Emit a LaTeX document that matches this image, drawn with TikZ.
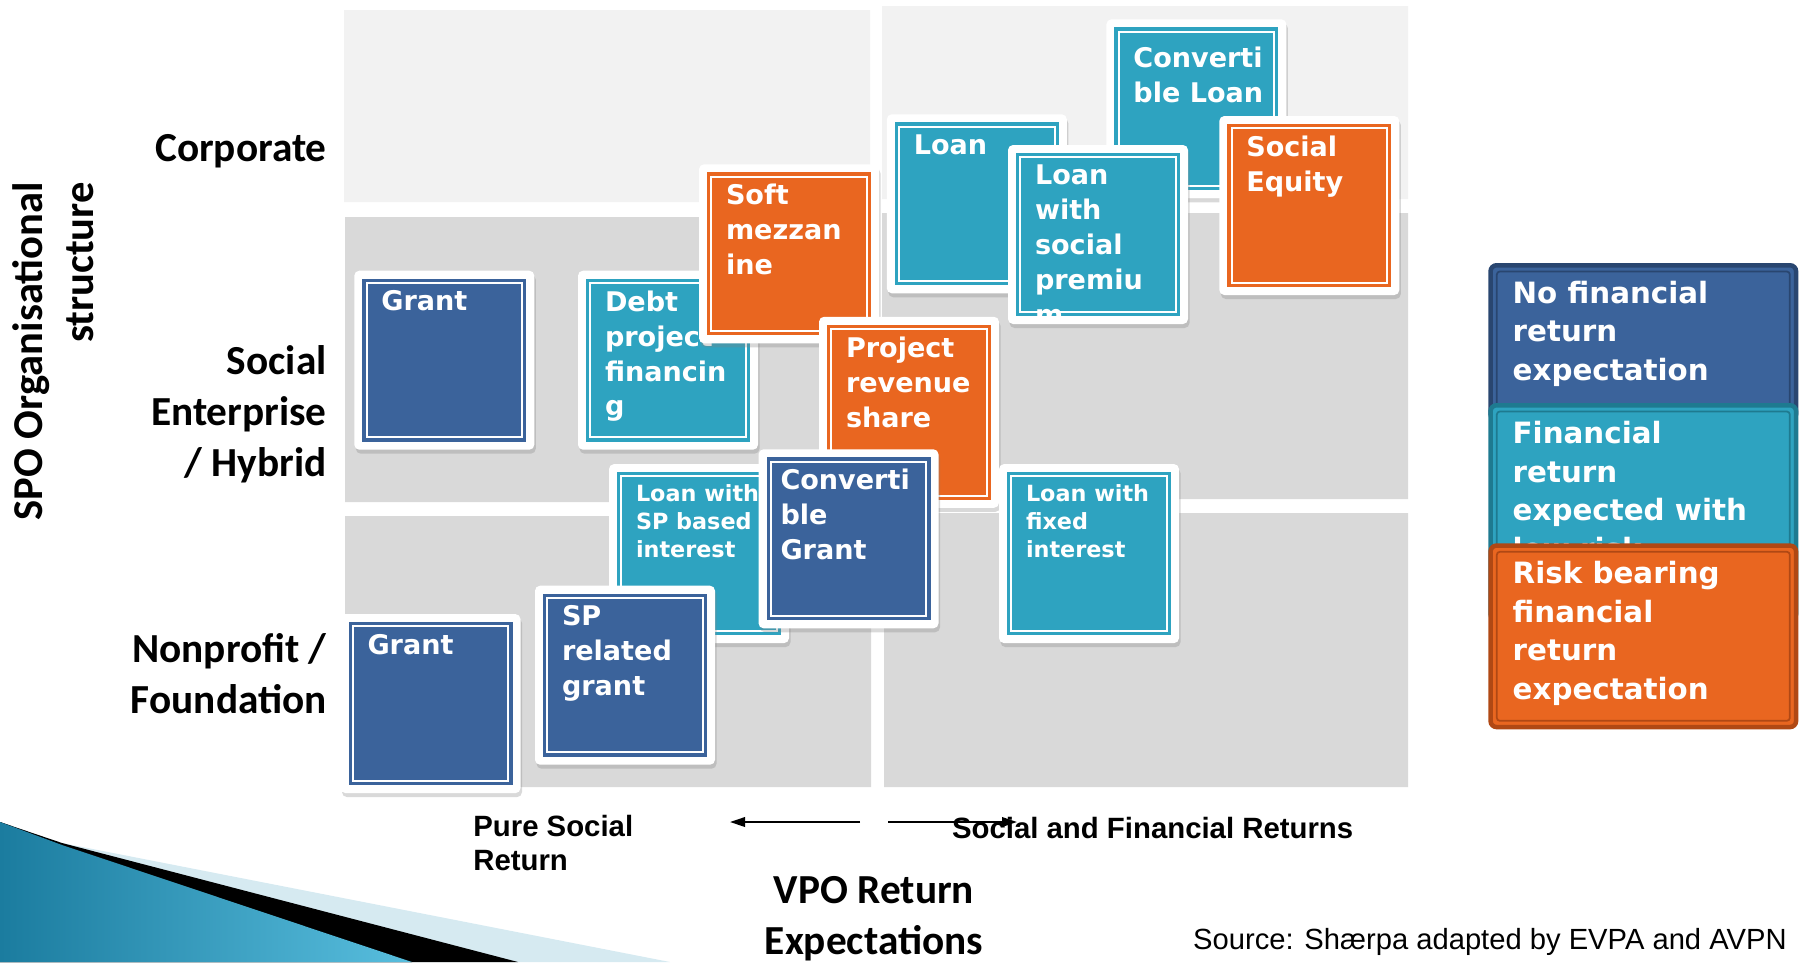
\documentclass[tikz,border=0pt]{standalone}
\usepackage{fontspec}
\setmainfont{DejaVu Sans}
\newfontfamily\tilefont{DejaVu Sans}
\newfontfamily\axisfont{Carlito}
\newfontfamily\notefont{Liberation Sans}
\usepackage{xcolor}
\definecolor{noreturn}{RGB}{59,99,155}
\definecolor{lowrisk}{RGB}{46,163,192}
\definecolor{riskbearing}{RGB}{233,102,32}
\definecolor{noreturndark}{RGB}{41,70,112}
\definecolor{lowriskdark}{RGB}{30,122,144}
\definecolor{riskbearingdark}{RGB}{176,72,20}
\definecolor{rowlight}{RGB}{242,242,242}
\definecolor{rowgrey}{RGB}{217,217,217}
\definecolor{swooshlight}{RGB}{214,234,241}
\definecolor{swooshdark}{RGB}{27,124,159}
\definecolor{swooshbright}{RGB}{88,190,222}
\usepackage{tikz}
\usetikzlibrary{calc}
\usetikzlibrary{shadows}
\usetikzlibrary{arrows.meta}
\newcommand{\instrument}[6][35.8mm]{%
    \node[tileframe, minimum height=#1] (#2) at (#3) {};
    \node[tileface=#4, minimum height=#1-4.92mm] (#2-face) at (#2.center) {};
    \node[#5] (#2-text) at ($(#2.north west)+(27,20)$) {#6};
}
\tikzset{
    tileframe/.style={fill=white, rounded corners=1mm, inner sep=0pt, minimum width=36mm,
        drop shadow={shadow xshift=0.3mm, shadow yshift=-0.8mm, opacity=0.3}},
    tileface/.style={fill=#1, draw=#1, double=white, double distance=0.4mm, line width=0.66mm,
        inner sep=0pt, minimum width=31.08mm},
    bigtext/.style={anchor=north west, align=left, inner sep=0pt, text=white,
        font=\tilefont\bfseries\fontsize{15.4}{19.85}\selectfont},
    smalltext/.style={bigtext, font=\tilefont\bfseries\fontsize{12.7}{16}\selectfont},
    keybox/.style 2 args={anchor=north west, fill=#1, draw=#2, line width=0.9mm, rounded corners=1.2mm,
        inner sep=0pt, minimum width=61.1mm,
        path picture={\draw[#2, line width=0.35mm, rounded corners=0.6mm]
            ([shift={(1.25mm,-1.25mm)}]path picture bounding box.north west) rectangle
            ([shift={(-1.25mm,1.25mm)}]path picture bounding box.south east);}},
    keytext/.style={anchor=north west, align=left, inner sep=0pt, text=white,
        font=\tilefont\bfseries\fontsize{16.7}{21.9}\selectfont},
    rowlabel/.style={align=right, inner sep=0pt, font=\axisfont\bfseries\fontsize{23.5}{29.2}\selectfont},
    axistitle/.style={rowlabel, font=\axisfont\bfseries\fontsize{24.2}{29.2}\selectfont},
    axisnote/.style={align=left, inner sep=0pt, font=\notefont\bfseries\fontsize{16.7}{19.6}\selectfont},
    returnarrow/.style={-{Triangle[length=3mm, width=1.9mm]}, line width=0.4mm}
}
\begin{document}
\begin{tikzpicture}[x=0.2mm, y=-0.2mm]
    \useasboundingbox (0,0) rectangle (1804,962);
    \fill[rowlight] (344,10) rectangle (870,202) (882,6) rectangle (1408,199);
    \fill[rowgrey] (345,217) rectangle (871,502) (882,213) rectangle (1408,499);
    \fill[rowgrey] (345,516) rectangle (871,787) (884,513) rectangle (1408,787);

    % corner decoration
    \fill[swooshlight] (0,822) -- (62,843) -- (670,962) -- (0,962) -- cycle;
    \fill[black] (0,822) -- (62,843) -- (518,962) -- (0,962) -- cycle;
    \fill[left color=swooshdark, right color=swooshbright] (0,822) -- (62,845) -- (412,962) -- (0,962) -- cycle;

    \node[rowlabel, anchor=base east] (corporate) at (327,161.5) {Corporate};
    \node[rowlabel, anchor=north east] (hybrid) at (327,345) {Social\\Enterprise\\/ Hybrid};
    \node[rowlabel, anchor=north east] (nonprofit) at (327,633) {Nonprofit /\\Foundation};
    \node[axistitle, rotate=90, anchor=north east] (spo) at (12,182) {SPO Organisational\\structure};

    \instrument{grantse}{444.3,360.2}{noreturn}{bigtext}{Grant}
    \instrument{debt}{668,360.2}{lowrisk}{bigtext}{Debt\\project\\financin\\g}
    \instrument{softmezz}{789,253.8}{riskbearing}{bigtext}{Soft\\mezzan\\ine}
    \instrument[38.2mm]{projrev}{909,412.3}{riskbearing}{bigtext}{Project\\revenue\\share}
    \instrument{loansp}{699,553.6}{lowrisk}{smalltext}{Loan with\\SP based\\interest}
    \instrument{convgrant}{848.5,538.8}{noreturn}{bigtext, xshift=-1mm}{Converti\\ble\\Grant}
    \instrument{spgrant}{625,675.2}{noreturn}{bigtext}{SP\\related\\grant}
    \instrument{grantnp}{430.5,703.6}{noreturn}{bigtext}{Grant}
    \instrument{loan}{976.8,203.8}{lowrisk}{bigtext}{Loan}
    \instrument{convloan}{1196.4,108.8}{lowrisk}{bigtext, yshift=-1.5mm}{Converti\\ble Loan}
    \instrument{loansocial}{1098,234.5}{lowrisk}{bigtext}{Loan\\with\\social\\premiu\\m}
    \instrument{socequity}{1309.3,205.5}{riskbearing}{bigtext}{Social\\Equity}
    \instrument{loanfixed}{1089,553.6}{lowrisk}{smalltext}{Loan with\\fixed\\interest}

    \node[keybox={noreturn}{noreturndark}, minimum height=30.96mm] (nofin) at (1488.3,263) {};
    \node[keytext] (nofin-text) at ($(nofin.north west)+(24,17.5)$) {No financial\\return\\expectation};
    \node[keybox={lowrisk}{lowriskdark}, minimum height=42.96mm] (lowfin) at (1488.3,403) {};
    \node[keytext] (lowfin-text) at ($(lowfin.north west)+(24,18)$) {Financial\\return\\expected with\\low risk};
    \node[keybox={riskbearing}{riskbearingdark}, minimum height=36.3mm] (riskfin) at (1488.3,543.3) {};
    \node[keytext] (riskfin-text) at ($(riskfin.north west)+(24,17.7)$) {Risk bearing\\financial\\return\\expectation};

    \node[axisnote, anchor=north west] (pure) at (473,814.5) {Pure Social\\Return};
    \node[axisnote, anchor=base west] (mixed) at (951.7,838.3) {Social and Financial Returns};
    \coordinate (left-from) at (860,822);
    \coordinate (left-to) at (730,822);
    \coordinate (right-from) at (888,822);
    \coordinate (right-to) at (1017,822);
    \draw[returnarrow] (left-from) -- (left-to);
    \draw[returnarrow] (right-from) -- (right-to);

    \node[rowlabel, align=center, anchor=north] (vpo) at (874,876) {VPO Return\\Expectations};
    \node[font=\notefont\fontsize{16.6}{19}\selectfont, anchor=base east, inner sep=0pt] (source)
        at (1787,949) {Source: Shærpa adapted by EVPA and AVPN};
\end{tikzpicture}
\end{document}
